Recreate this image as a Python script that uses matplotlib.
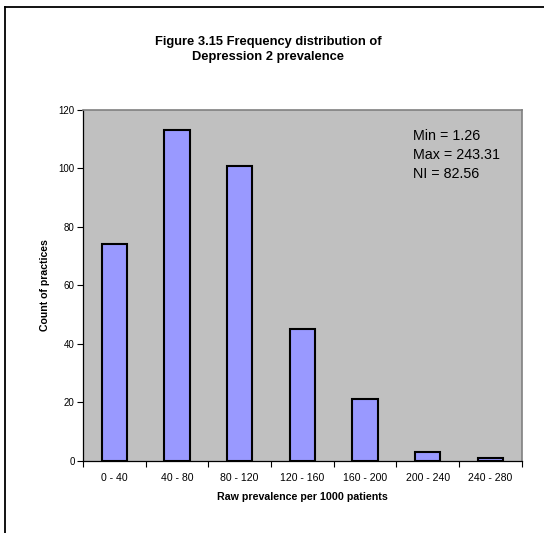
import matplotlib
matplotlib.use("Agg")
import matplotlib.pyplot as plt
from matplotlib.lines import Line2D
import numpy as np

plt.rcParams['font.family'] = ['Liberation Sans', 'DejaVu Sans']

categories = ["0 - 40", "40 - 80", "80 - 120", "120 - 160", "160 - 200", "200 - 240", "240 - 280"]
counts = [74, 113, 101, 45, 21, 3, 1]
y_ticks = [0, 20, 40, 60, 80, 100, 120]
title = "Figure 3.15 Frequency distribution of\nDepression 2 prevalence"
stats_text = "Min = 1.26\nMax = 243.31\nNI = 82.56"

W, H = 544, 533
fig = plt.figure(figsize=(W / 100, H / 100), dpi=100)
fig.patch.set_facecolor("white")

# outer frame (top and left edges visible)
fig.add_artist(Line2D([5 / W, 5 / W], [0, 1 - 7 / H], color="black", lw=1.3, transform=fig.transFigure))
fig.add_artist(Line2D([5 / W, 1], [1 - 7 / H, 1 - 7 / H], color="black", lw=1.3, transform=fig.transFigure))

left, right, bottom, top = 83 / W, 521.7 / W, 1 - 460.7 / H, 1 - 110 / H
ax = fig.add_axes([left, bottom, right - left, top - bottom])
ax.set_facecolor("#C0C0C0")

x = np.arange(len(categories)) + 0.5
ax.bar(x, counts, width=0.4, color="#9999FF", edgecolor="black", linewidth=1.5, zorder=3)

ax.set_xlim(0, len(categories))
ax.set_ylim(0, 120)
ax.set_yticks(y_ticks)
ax.set_yticklabels([str(v) for v in y_ticks], fontsize=7)
ax.set_xticks(np.arange(len(categories) + 1))
ax.set_xticklabels([])
ax.set_xticks(x, minor=True)
ax.set_xticklabels(categories, minor=True, fontsize=7.6)
ax.tick_params(axis="x", which="minor", length=0, pad=8.5)
ax.tick_params(axis="x", which="major", length=4, width=0.8, direction="out")
ax.tick_params(axis="y", length=4, width=0.8, direction="out", pad=2)

for s in ["top", "right"]:
    ax.spines[s].set_color("#808080")
    ax.spines[s].set_linewidth(1.2)
for s in ["left", "bottom"]:
    ax.spines[s].set_color("black")
    ax.spines[s].set_linewidth(0.9)

ax.set_xlabel("Raw prevalence per 1000 patients", fontsize=7.7, fontweight="bold", labelpad=6.5)
ax.set_ylabel("Count of practices", fontsize=7.6, fontweight="bold", labelpad=6)

fig.text(268 / W, 1 - 49.5 / H, title, ha="center", va="center", fontsize=9.3,
         fontweight="bold", linespacing=1.4)

ax.text(0.753, 0.945, stats_text, transform=ax.transAxes, ha="left", va="top",
        fontsize=10.3, linespacing=1.45)

fig.savefig("out.png", dpi=100)
